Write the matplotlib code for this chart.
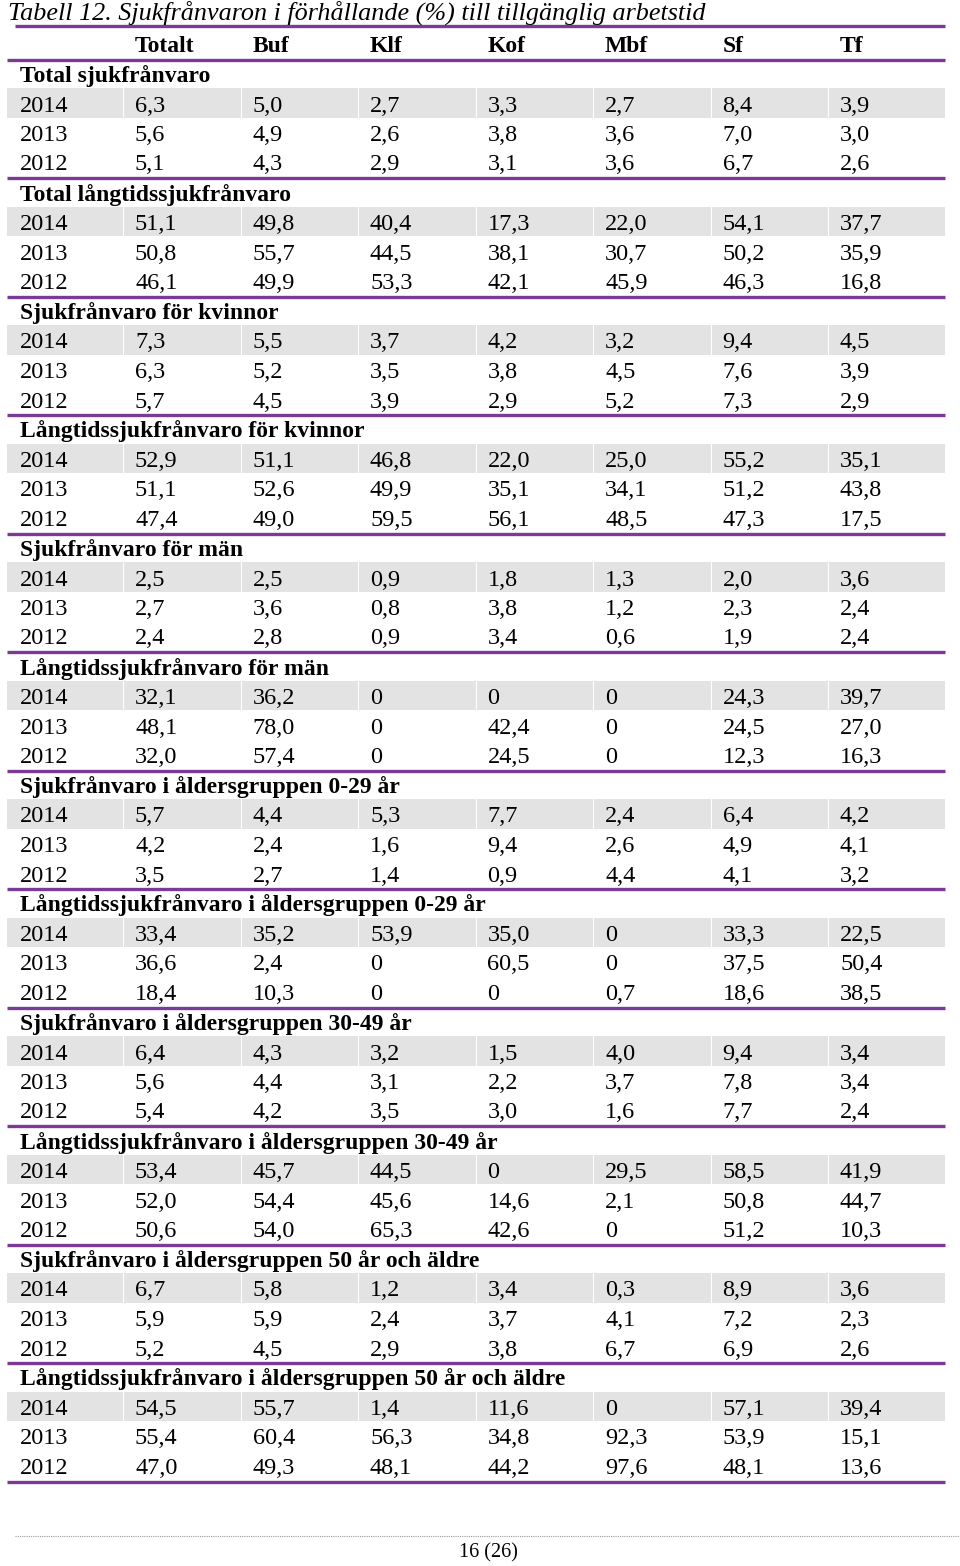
import matplotlib.pyplot as plt
from matplotlib.patches import Rectangle

plt.rcParams['font.family'] = ['Liberation Serif', 'DejaVu Serif']

title = 'Tabell 12. Sjukfrånvaron i förhållande (%) till tillgänglig arbetstid'
columns = ['Totalt', 'Buf', 'Klf', 'Kof', 'Mbf', 'Sf', 'Tf']
years = ['2014', '2013', '2012']

sections = [
    'Total sjukfrånvaro',
    'Total långtidssjukfrånvaro',
    'Sjukfrånvaro för kvinnor',
    'Långtidssjukfrånvaro för kvinnor',
    'Sjukfrånvaro för män',
    'Långtidssjukfrånvaro för män',
    'Sjukfrånvaro i åldersgruppen 0-29 år',
    'Långtidssjukfrånvaro i åldersgruppen 0-29 år',
    'Sjukfrånvaro i åldersgruppen 30-49 år',
    'Långtidssjukfrånvaro i åldersgruppen 30-49 år',
    'Sjukfrånvaro i åldersgruppen 50 år och äldre',
    'Långtidssjukfrånvaro i åldersgruppen 50 år och äldre',
]

total_sjuk = [[6.3, 5.0, 2.7, 3.3, 2.7, 8.4, 3.9],
              [5.6, 4.9, 2.6, 3.8, 3.6, 7.0, 3.0],
              [5.1, 4.3, 2.9, 3.1, 3.6, 6.7, 2.6]]
total_lang = [[51.1, 49.8, 40.4, 17.3, 22.0, 54.1, 37.7],
              [50.8, 55.7, 44.5, 38.1, 30.7, 50.2, 35.9],
              [46.1, 49.9, 53.3, 42.1, 45.9, 46.3, 16.8]]
kvinnor_sjuk = [[7.3, 5.5, 3.7, 4.2, 3.2, 9.4, 4.5],
                [6.3, 5.2, 3.5, 3.8, 4.5, 7.6, 3.9],
                [5.7, 4.5, 3.9, 2.9, 5.2, 7.3, 2.9]]
kvinnor_lang = [[52.9, 51.1, 46.8, 22.0, 25.0, 55.2, 35.1],
                [51.1, 52.6, 49.9, 35.1, 34.1, 51.2, 43.8],
                [47.4, 49.0, 59.5, 56.1, 48.5, 47.3, 17.5]]
man_sjuk = [[2.5, 2.5, 0.9, 1.8, 1.3, 2.0, 3.6],
            [2.7, 3.6, 0.8, 3.8, 1.2, 2.3, 2.4],
            [2.4, 2.8, 0.9, 3.4, 0.6, 1.9, 2.4]]
man_lang = [[32.1, 36.2, 0, 0, 0, 24.3, 39.7],
            [48.1, 78.0, 0, 42.4, 0, 24.5, 27.0],
            [32.0, 57.4, 0, 24.5, 0, 12.3, 16.3]]
ung_sjuk = [[5.7, 4.4, 5.3, 7.7, 2.4, 6.4, 4.2],
            [4.2, 2.4, 1.6, 9.4, 2.6, 4.9, 4.1],
            [3.5, 2.7, 1.4, 0.9, 4.4, 4.1, 3.2]]
ung_lang = [[33.4, 35.2, 53.9, 35.0, 0, 33.3, 22.5],
            [36.6, 2.4, 0, 60.5, 0, 37.5, 50.4],
            [18.4, 10.3, 0, 0, 0.7, 18.6, 38.5]]
mellan_sjuk = [[6.4, 4.3, 3.2, 1.5, 4.0, 9.4, 3.4],
               [5.6, 4.4, 3.1, 2.2, 3.7, 7.8, 3.4],
               [5.4, 4.2, 3.5, 3.0, 1.6, 7.7, 2.4]]
mellan_lang = [[53.4, 45.7, 44.5, 0, 29.5, 58.5, 41.9],
               [52.0, 54.4, 45.6, 14.6, 2.1, 50.8, 44.7],
               [50.6, 54.0, 65.3, 42.6, 0, 51.2, 10.3]]
aldre_sjuk = [[6.7, 5.8, 1.2, 3.4, 0.3, 8.9, 3.6],
              [5.9, 5.9, 2.4, 3.7, 4.1, 7.2, 2.3],
              [5.2, 4.5, 2.9, 3.8, 6.7, 6.9, 2.6]]
aldre_lang = [[54.5, 55.7, 1.4, 11.6, 0, 57.1, 39.4],
              [55.4, 60.4, 56.3, 34.8, 92.3, 53.9, 15.1],
              [47.0, 49.3, 48.1, 44.2, 97.6, 48.1, 13.6]]

tables = [total_sjuk, total_lang, kvinnor_sjuk, kvinnor_lang, man_sjuk, man_lang,
          ung_sjuk, ung_lang, mellan_sjuk, mellan_lang, aldre_sjuk, aldre_lang]

page_label = '16 (26)'


def fmt(v):
    if v == 0:
        return '0'
    return ('%.1f' % v).replace('.', ',')


purple = '#7B3A96'
band = '#E3E3E3'
fs = 17.5
fs_bold = 17

fig = plt.figure(figsize=(9.6, 15.66), dpi=100)
ax = fig.add_axes([0, 0, 1, 1])
ax.set_xlim(0, 960)
ax.set_ylim(1566, 0)
ax.axis('off')

x_left, x_right = 7, 945
year_x = 20
col_x = [135 + 117.5 * i for i in range(len(columns))]
sep_x = [123 + 117.5 * i for i in range(len(columns))]

# title and header
ax.text(8, 19.5, title, fontsize=18.8, style='italic', va='baseline', ha='left')
ax.plot([15, x_right], [25.5, 25.5], color=purple, lw=2.4, solid_capstyle='butt')
for x, c in zip(col_x, columns):
    ax.text(x, 52, c, fontsize=fs_bold, fontweight='bold', va='baseline')

top = 59.5
block_h = 118.5
head_h = 28.5
row_h = 29.5

for k, (name, vals) in enumerate(zip(sections, tables)):
    line_y = top + k * block_h
    ax.plot([x_left, x_right], [line_y, line_y], color=purple, lw=2.4,
            solid_capstyle='butt', zorder=3)
    ax.text(year_x, line_y + 22.5, name, fontsize=fs_bold, fontweight='bold', va='baseline')
    for i, (yr, row) in enumerate(zip(years, vals)):
        band_top = line_y + head_h + row_h * i
        if i == 0:
            ax.add_patch(Rectangle((x_left, band_top), x_right - x_left, row_h,
                                   facecolor=band, edgecolor='none', zorder=0))
            for sx in sep_x:
                ax.plot([sx, sx], [band_top, band_top + row_h], color='white',
                        lw=0.8, zorder=1)
        base = band_top + 23.5
        ax.text(year_x, base, yr, fontsize=fs, va='baseline', zorder=2)
        for x, v in zip(col_x, row):
            ax.text(x, base, fmt(v), fontsize=fs, va='baseline', zorder=2)

bottom_y = top + len(sections) * block_h
ax.plot([x_left, x_right], [bottom_y, bottom_y], color=purple, lw=2.4,
        solid_capstyle='butt', zorder=3)

# footer
ax.plot([15, 960], [1536, 1536], color='#999999', lw=0.8, ls=(0, (1, 1)))
ax.text(488, 1557, page_label, fontsize=14.5, ha='center', va='baseline')

fig.savefig('out.png', dpi=100)
